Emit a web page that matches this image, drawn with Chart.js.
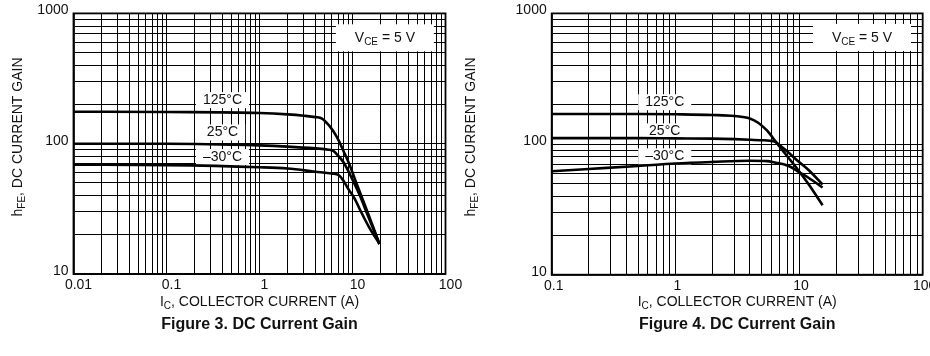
<!DOCTYPE html>
<html><head><meta charset="utf-8">
<script src="https://cdn.jsdelivr.net/npm/chart.js@4.4.1/dist/chart.umd.min.js"></script>
<style>
html,body{margin:0;padding:0;background:#fff;overflow:hidden;width:930px;height:356px;position:relative;}
#w1{position:absolute;left:0;top:0;width:470px;height:356px;}
#w2{position:absolute;left:460px;top:0;width:490px;height:356px;}
</style></head><body>
<div id="w1"><canvas id="c1" width="470" height="356"></canvas></div>
<div id="w2"><canvas id="c2" width="490" height="356"></canvas></div>
<script>
// ---------- DATA ----------
const seriesNames = ['125°C', '25°C', '\u201330°C'];

// Figure 3
const fig3Ic125  = [0.01, 0.1, 1, 2, 3, 4, 4.7, 5.5, 6.2, 7, 8, 9.3, 11, 14, 19.5];
const fig3Hfe125 = [176, 175, 172, 168, 164, 160, 156, 140, 125, 108, 88, 69, 50, 32, 17];
const fig3Ic25   = [0.01, 0.1, 1, 2, 4, 5.5, 6.2, 7, 8, 10, 12, 14.5, 19.5];
const fig3Hfe25  = [100, 100, 97, 95, 92, 90, 88, 81, 72, 53, 40, 28.5, 17];
const fig3IcM30  = [0.01, 0.1, 1, 2, 4, 6, 7.2, 8, 9, 10.5, 12.5, 15, 19.5];
const fig3HfeM30 = [69, 68.5, 66, 64.5, 61, 59, 57, 52, 45, 38, 29.5, 23, 17];

// Figure 4
const fig4Ic125  = [0.1, 0.5, 1, 2, 3, 4, 4.7, 5.5, 6.4, 7, 8, 10, 12, 15.5];
const fig4Hfe125 = [170, 170, 169, 167, 164, 157, 145, 127, 106, 95, 81, 62, 49, 34];
const fig4Ic25   = [0.1, 0.5, 1, 2, 3, 4, 5, 5.8, 6.4, 7, 8, 10, 12, 15.5];
const fig4Hfe25  = [111, 111, 110.5, 110, 109, 108, 107, 106, 104, 98, 88, 73, 63, 49];
const fig4IcM30  = [0.1, 0.2, 0.5, 1, 2, 4, 5.5, 6.5, 7.5, 8.5, 10, 12, 15.5];
const fig4HfeM30 = [62, 64.5, 68, 71, 73, 74.5, 74, 72, 70, 67, 61, 55, 46.5];

// Axis ticks
const fig3XTickValues = [0.01, 0.1, 1, 10, 100];
const fig3XTickLabels = ['0.01', '0.1', '1', '10', '100'];
const fig4XTickValues = [0.1, 1, 10, 100];
const fig4XTickLabels = ['0.1', '1', '10', '100'];
const yTickValues = [10, 100, 1000];
const yTickLabels = ['10', '100', '1000'];

// Annotation anchors (data coordinates: Ic, hFE)
const fig3LabelIc  = [0.4, 0.4, 0.4];
const fig3LabelHfe = [216, 122, 79];
const fig4LabelIc  = [0.82, 0.82, 0.82];
const fig4LabelHfe = [209, 125, 80.5];
const fig3Vce = [22.3, 644];
const fig4Vce = [32.3, 649];

// ---------- HELPERS ----------
const FONT = '"Liberation Sans", Arial, Helvetica, sans-serif';
const TXT = '#111';

function gridValues(minExp, maxExp) {
  const v = [];
  for (let e = minExp; e < maxExp; e++)
    for (let m = 1; m <= 9; m++) v.push(Number((m * Math.pow(10, e)).toPrecision(3)));
  v.push(Math.pow(10, maxExp));
  return v;
}
function pts(xs, ys) { return xs.map((x, i) => ({x: x, y: ys[i]})); }
function labelFor(values, labels) {
  return function (val) {
    const i = values.findIndex(t => Math.abs(t - val) / t < 1e-6);
    return i >= 0 ? labels[i] : '';
  };
}
function drawParts(ctx, parts, x, y, size, align) {
  const big = size + 'px ' + FONT;
  const small = Math.round(size * 0.72) + 'px ' + FONT;
  let w = 0;
  parts.forEach(p => { ctx.font = p[1] ? small : big; w += ctx.measureText(p[0]).width; });
  let cx = align === 'center' ? x - w / 2 : x;
  ctx.textAlign = 'left';
  ctx.textBaseline = 'middle';
  parts.forEach(p => {
    ctx.font = p[1] ? small : big;
    ctx.fillText(p[0], cx, p[1] ? y + size * 0.28 : y);
    cx += ctx.measureText(p[0]).width;
  });
  return w;
}

const decor = {
  id: 'decor',
  beforeDatasetsDraw(chart, args, o) {
    const {ctx, chartArea: a, scales} = chart;
    const x = scales.x, y = scales.y;
    ctx.save();
    ctx.strokeStyle = '#000';
    ctx.lineWidth = 1.8;
    ctx.strokeRect(a.left, a.top, a.right - a.left, a.bottom - a.top);
    // VCE box
    const vx = x.getPixelForValue(o.vce[0]), vy = y.getPixelForValue(o.vce[1]);
    ctx.fillStyle = '#fff';
    ctx.fillRect(vx - 49, vy - 14, 98, 27);
    ctx.fillStyle = TXT;
    drawParts(ctx, [['V', false], ['CE', true], [' = 5 V', false]], vx, vy, 14, 'center');
    // temperature labels
    ctx.font = '14px ' + FONT;
    seriesNames.forEach((t, i) => {
      const lx = x.getPixelForValue(o.labIc[i]), ly = y.getPixelForValue(o.labHfe[i]);
      const w = ctx.measureText(t).width;
      ctx.fillStyle = '#fff';
      ctx.fillRect(lx - w / 2 - 7, ly - 8, w + 14, 16);
      ctx.fillStyle = TXT;
      ctx.textAlign = 'center';
      ctx.textBaseline = 'middle';
      ctx.fillText(t, lx, ly);
    });
    ctx.restore();
  },
  afterDraw(chart, args, o) {
    const {ctx, chartArea: a} = chart;
    const cx = (a.left + a.right) / 2;
    ctx.save();
    ctx.fillStyle = TXT;
    drawParts(ctx, [['I', false], ['C', true], [', COLLECTOR CURRENT (A)', false]], cx, 302, 14, 'center');
    ctx.font = 'bold 16px ' + FONT;
    ctx.textAlign = 'center';
    ctx.textBaseline = 'middle';
    ctx.fillText(o.caption, cx, 325);
    ctx.translate(o.ytx, 137);
    ctx.rotate(-Math.PI / 2);
    drawParts(ctx, [['h', false], ['FE', true], [', DC CURRENT GAIN', false]], 0, 0, 14, 'center');
    ctx.restore();
  }
};

function makeChart(id, cfg) {
  const ds = cfg.series.map(s => ({
    label: s.name,
    data: pts(s.x, s.y),
    borderColor: '#000',
    borderWidth: 2.6,
    pointRadius: 0,
    fill: false,
    cubicInterpolationMode: 'monotone'
  }));
  const xGrid = gridValues(cfg.xMinExp, cfg.xMaxExp);
  const yGrid = gridValues(1, 3);
  return new Chart(document.getElementById(id), {
    type: 'line',
    data: {datasets: ds},
    plugins: [decor],
    options: {
      responsive: false,
      animation: false,
      events: [],
      layout: {padding: {left: 0, top: cfg.top, right: cfg.right, bottom: 0}},
      plugins: {
        legend: {display: false},
        tooltip: {enabled: false},
        decor: {vce: cfg.vce, labIc: cfg.labIc, labHfe: cfg.labHfe, caption: cfg.caption, ytx: cfg.ytx}
      },
      scales: {
        x: {
          type: 'logarithmic',
          min: Math.pow(10, cfg.xMinExp), max: Math.pow(10, cfg.xMaxExp),
          afterBuildTicks: s => { s.ticks = xGrid.map(v => ({value: v})); },
          afterFit: s => { s.height = 356 - cfg.bottom; },
          grid: {color: '#000', lineWidth: 1, drawTicks: false},
          border: {display: true, color: '#000', width: 1.8},
          ticks: {
            autoSkip: false, maxRotation: 0, minRotation: 0, padding: 3,
            labelOffset: cfg.xLabelOffset,
            color: TXT, font: {family: FONT, size: 14},
            callback: labelFor(cfg.xTickValues, cfg.xTickLabels)
          }
        },
        y: {
          type: 'logarithmic',
          min: 10, max: 1000,
          afterBuildTicks: s => { s.ticks = yGrid.map(v => ({value: v})); },
          afterFit: s => { s.width = cfg.left; },
          grid: {color: '#000', lineWidth: 1, drawTicks: false},
          border: {display: true, color: '#000', width: 1.8},
          ticks: {
            autoSkip: false, padding: 5, labelOffset: -3,
            color: TXT, font: {family: FONT, size: 14},
            callback: labelFor(yTickValues, yTickLabels)
          }
        }
      }
    }
  });
}

makeChart('c1', {
  series: [
    {name: seriesNames[0], x: fig3Ic125, y: fig3Hfe125},
    {name: seriesNames[1], x: fig3Ic25, y: fig3Hfe25},
    {name: seriesNames[2], x: fig3IcM30, y: fig3HfeM30}
  ],
  xMinExp: -2, xMaxExp: 2,
  xTickValues: fig3XTickValues, xTickLabels: fig3XTickLabels,
  left: 73.5, right: 470 - 445.5, top: 13.3, bottom: 274,
  xLabelOffset: 5,
  vce: fig3Vce, labIc: fig3LabelIc, labHfe: fig3LabelHfe,
  caption: 'Figure 3. DC Current Gain', ytx: 18
});

makeChart('c2', {
  series: [
    {name: seriesNames[0], x: fig4Ic125, y: fig4Hfe125},
    {name: seriesNames[1], x: fig4Ic25, y: fig4Hfe25},
    {name: seriesNames[2], x: fig4IcM30, y: fig4HfeM30}
  ],
  xMinExp: -1, xMaxExp: 2,
  xTickValues: fig4XTickValues, xTickLabels: fig4XTickLabels,
  left: 551.7 - 460, right: 490 - 462.7, top: 13.3, bottom: 274.7,
  xLabelOffset: 2,
  vce: fig4Vce, labIc: fig4LabelIc, labHfe: fig4LabelHfe,
  caption: 'Figure 4. DC Current Gain', ytx: 11.5
});
</script>
</body></html>
